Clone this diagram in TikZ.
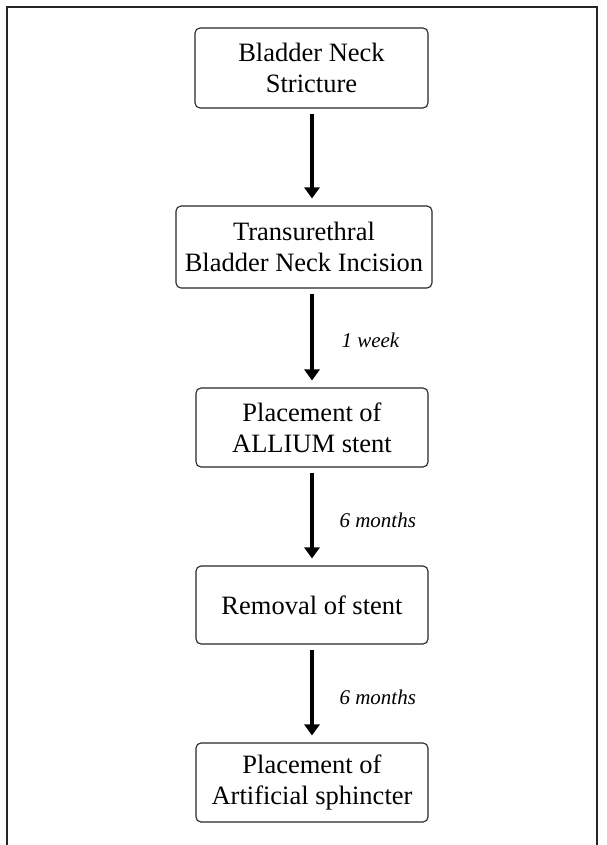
\documentclass[tikz,border=0pt]{standalone}
\usepackage{fontspec}
\setmainfont{Liberation Serif}
\usetikzlibrary{arrows.meta}
\begin{document}
\begin{tikzpicture}[x=1pt,y=-1pt,
  stepbox/.style={draw=black!85, line width=1.1pt, rounded corners=5pt, align=center,
    font=\fontsize{26.5}{31}\selectfont, inner sep=0pt},
  flow/.style={line width=4pt, -{Triangle[width=15pt,length=11pt]}, shorten <=5pt, shorten >=7pt},
  lbl/.style={font=\fontsize{21}{24}\selectfont\itshape, anchor=west}]
\useasboundingbox (0,0) rectangle (606,845);
\draw[line width=1.2pt, black!85] (7,845) -- (7,7) -- (597,7) -- (597,845);
\node[stepbox, minimum width=233pt, minimum height=80pt] (a) at (311.5,68) {Bladder Neck\\Stricture};
\node[stepbox, minimum width=256pt, minimum height=82pt] (b) at (304,247) {Transurethral\\Bladder Neck Incision};
\node[stepbox, minimum width=232pt, minimum height=79pt] (c) at (312,427.5) {Placement of\\ALLIUM stent};
\node[stepbox, minimum width=232pt, minimum height=78pt] (d) at (312,605) {Removal of stent};
\node[stepbox, minimum width=232pt, minimum height=79pt] (e) at (312,782.5) {Placement of\\Artificial sphincter};
\draw[flow] (a.south -| 312,0) -- (b.north -| 312,0);
\draw[flow] (b.south -| 312,0) -- (c.north);
\draw[flow] (c.south) -- (d.north);
\draw[flow] (d.south) -- (e.north);
\node[lbl] (l1) at (338,340) {1 week};
\node[lbl] (l2) at (336,520) {6 months};
\node[lbl] (l3) at (336,697) {6 months};
\end{tikzpicture}
\end{document}
